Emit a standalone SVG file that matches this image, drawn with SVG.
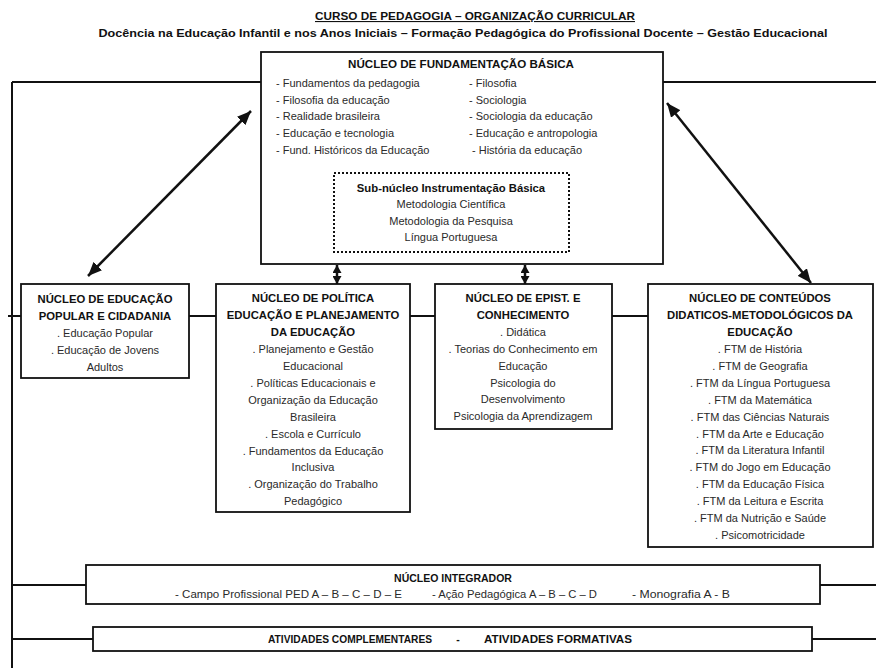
<svg xmlns="http://www.w3.org/2000/svg" width="876" height="668" viewBox="0 0 876 668">
<defs>
<style>
text{font-family:"Liberation Sans",Arial,sans-serif}
.t{font-size:11px;font-weight:bold;fill:#111;text-anchor:middle}
.h{font-size:11.3px;font-weight:bold;fill:#111;text-anchor:middle}
.b{font-size:11px;fill:#2a2a2a}
.bm{font-size:11px;fill:#2a2a2a;text-anchor:middle}
.s{font-size:10.5px;fill:#2a2a2a}
.box{fill:#fff;stroke:#111;stroke-width:1.8}
.dot{fill:none;stroke:#111;stroke-width:2;stroke-dasharray:2,2}
.ln{fill:none;stroke:#111;stroke-width:2}
.ar{fill:none;stroke:#111;stroke-width:2.5}
</style>
<marker id="ah" markerUnits="userSpaceOnUse" markerWidth="14" markerHeight="12" refX="14" refY="6" orient="auto-start-reverse" viewBox="0 0 14 12">
<path d="M0,0 L14,6 L0,12 z" fill="#111"/>
</marker>
<marker id="as" markerUnits="userSpaceOnUse" markerWidth="8" markerHeight="9" refX="8" refY="4.5" orient="auto-start-reverse" viewBox="0 0 8 9">
<path d="M0,0 L8,4.5 L0,9 z" fill="#111"/>
</marker>
</defs>
<rect width="876" height="668" fill="#fff"/>

<g id="title">
<text class="t" x="475" y="20" textLength="320" lengthAdjust="spacingAndGlyphs" text-decoration="underline">CURSO DE PEDAGOGIA – ORGANIZAÇÃO CURRICULAR</text>
<text class="t" x="463" y="37" textLength="729" lengthAdjust="spacingAndGlyphs">Docência na Educação Infantil e nos Anos Iniciais – Formação Pedagógica do Profissional Docente – Gestão Educacional</text>
</g>

<g id="connectors">
<path class="ln" d="M12,82 H261 M663,82 H876 M12,82 V668"/>
<path class="ln" d="M8,316 H21 M189,316 H216 M410,316 H435 M612,316 H648"/>
<path class="ln" d="M12,585 H86 M820,585 H876 M12,639 H93 M812,639 H876"/>
<line class="ar" x1="251" y1="111" x2="88" y2="276" marker-start="url(#ah)" marker-end="url(#ah)"/>
<line class="ar" x1="667" y1="103" x2="811" y2="283" marker-start="url(#ah)" marker-end="url(#ah)"/>
<line class="ar" x1="337" y1="265" x2="337" y2="284" marker-start="url(#as)" marker-end="url(#as)"/>
<line class="ar" x1="525" y1="265" x2="525" y2="284" marker-start="url(#as)" marker-end="url(#as)"/>
</g>

<g id="nucleo-fundamentacao">
<rect class="box" x="261" y="52" width="402" height="212"/>
<text class="h" x="461" y="68" style="font-size:11.6px">NÚCLEO DE FUNDAMENTAÇÃO BÁSICA</text>
<text class="b" x="276" y="87">- Fundamentos da pedagogia</text>
<text class="b" x="276" y="103.7">- Filosofia da educação</text>
<text class="b" x="276" y="120.4">- Realidade brasileira</text>
<text class="b" x="276" y="137.1">- Educação e tecnologia</text>
<text class="b" x="276" y="153.8">- Fund. Históricos da Educação</text>
<text class="b" x="469" y="87">- Filosofia</text>
<text class="b" x="469" y="103.7">- Sociologia</text>
<text class="b" x="469" y="120.4">- Sociologia da educação</text>
<text class="b" x="469" y="137.1">- Educação e antropologia</text>
<text class="b" x="472" y="153.8">- História da educação</text>
</g>

<g id="subnucleo-instrumentacao">
<rect class="dot" x="334" y="173" width="235" height="79"/>
<text class="h" x="451" y="192">Sub-núcleo Instrumentação Básica</text>
<text class="bm" x="451" y="208">Metodologia Científica</text>
<text class="bm" x="451" y="224.5">Metodologia da Pesquisa</text>
<text class="bm" x="451" y="241">Língua Portuguesa</text>
</g>

<g id="nucleo-educacao-popular">
<rect class="box" x="21" y="284" width="168" height="94"/>
<text class="h" x="105" y="303">NÚCLEO DE EDUCAÇÃO</text>
<text class="h" x="105" y="320">POPULAR E CIDADANIA</text>
<text class="bm" x="105" y="337">. Educação Popular</text>
<text class="bm" x="105" y="354">. Educação de Jovens</text>
<text class="bm" x="105" y="371">Adultos</text>
</g>

<g id="nucleo-politica">
<rect class="box" x="216" y="284" width="194" height="228"/>
<text class="h" x="313" y="302">NÚCLEO DE POLÍTICA</text>
<text class="h" x="313" y="319">EDUCAÇÃO E PLANEJAMENTO</text>
<text class="h" x="313" y="336">DA EDUCAÇÃO</text>
<text class="bm" x="313" y="353">. Planejamento e Gestão</text>
<text class="bm" x="313" y="370">Educacional</text>
<text class="bm" x="313" y="387">. Políticas Educacionais e</text>
<text class="bm" x="313" y="403.5">Organização da Educação</text>
<text class="bm" x="313" y="420.5">Brasileira</text>
<text class="bm" x="313" y="437.5">. Escola e Currículo</text>
<text class="bm" x="313" y="454.5">. Fundamentos da Educação</text>
<text class="bm" x="313" y="471">Inclusiva</text>
<text class="bm" x="313" y="488">. Organização do Trabalho</text>
<text class="bm" x="313" y="505">Pedagógico</text>
</g>

<g id="nucleo-epist">
<rect class="box" x="435" y="284" width="177" height="145"/>
<text class="h" x="523" y="302">NÚCLEO DE EPIST. E</text>
<text class="h" x="523" y="319">CONHECIMENTO</text>
<text class="bm" x="523" y="336">. Didática</text>
<text class="bm" x="523" y="353">. Teorias do Conhecimento em</text>
<text class="bm" x="523" y="369.5">Educação</text>
<text class="bm" x="523" y="386.5">Psicologia  do</text>
<text class="bm" x="523" y="403">Desenvolvimento</text>
<text class="bm" x="523" y="420">Psicologia da Aprendizagem</text>
</g>

<g id="nucleo-conteudos">
<rect class="box" x="648" y="284" width="225" height="263"/>
<text class="h" x="760" y="302">NÚCLEO DE CONTEÚDOS</text>
<text class="h" x="760" y="319">DIDATICOS-METODOLÓGICOS DA</text>
<text class="h" x="760" y="336">EDUCAÇÃO</text>
<text class="bm" x="760" y="353">. FTM de História</text>
<text class="bm" x="760" y="370">. FTM de Geografia</text>
<text class="bm" x="760" y="386.8">. FTM da Língua Portuguesa</text>
<text class="bm" x="760" y="403.7">. FTM da Matemática</text>
<text class="bm" x="760" y="420.6">. FTM das Ciências Naturais</text>
<text class="bm" x="760" y="437.5">. FTM da Arte e Educação</text>
<text class="bm" x="760" y="454.4">. FTM da Literatura Infantil</text>
<text class="bm" x="760" y="471.3">. FTM do Jogo em Educação</text>
<text class="bm" x="760" y="488.2">. FTM da Educação Física</text>
<text class="bm" x="760" y="505.1">. FTM da Leitura e Escrita</text>
<text class="bm" x="760" y="522">. FTM da Nutrição e Saúde</text>
<text class="bm" x="760" y="539">. Psicomotricidade</text>
</g>

<g id="nucleo-integrador">
<rect class="box" x="86" y="565" width="734" height="39"/>
<text class="h" x="453" y="582" style="font-size:10.5px">NÚCLEO INTEGRADOR</text>
<text class="s" x="175" y="598" textLength="227" lengthAdjust="spacingAndGlyphs">- Campo Profissional PED A – B – C – D – E</text>
<text class="s" x="432" y="598" textLength="165" lengthAdjust="spacingAndGlyphs">- Ação Pedagógica A – B – C – D</text>
<text class="s" x="632" y="598" textLength="98" lengthAdjust="spacingAndGlyphs">- Monografia A - B</text>
</g>

<g id="atividades">
<rect class="box" x="93" y="627" width="719" height="24"/>
<text class="h" x="350" y="643" style="font-size:10.5px" textLength="164" lengthAdjust="spacingAndGlyphs">ATIVIDADES COMPLEMENTARES</text>
<text class="h" x="458" y="643" style="font-size:10.5px">-</text>
<text class="h" x="558" y="643" style="font-size:10.5px" textLength="148" lengthAdjust="spacingAndGlyphs">ATIVIDADES FORMATIVAS</text>
</g>
</svg>
